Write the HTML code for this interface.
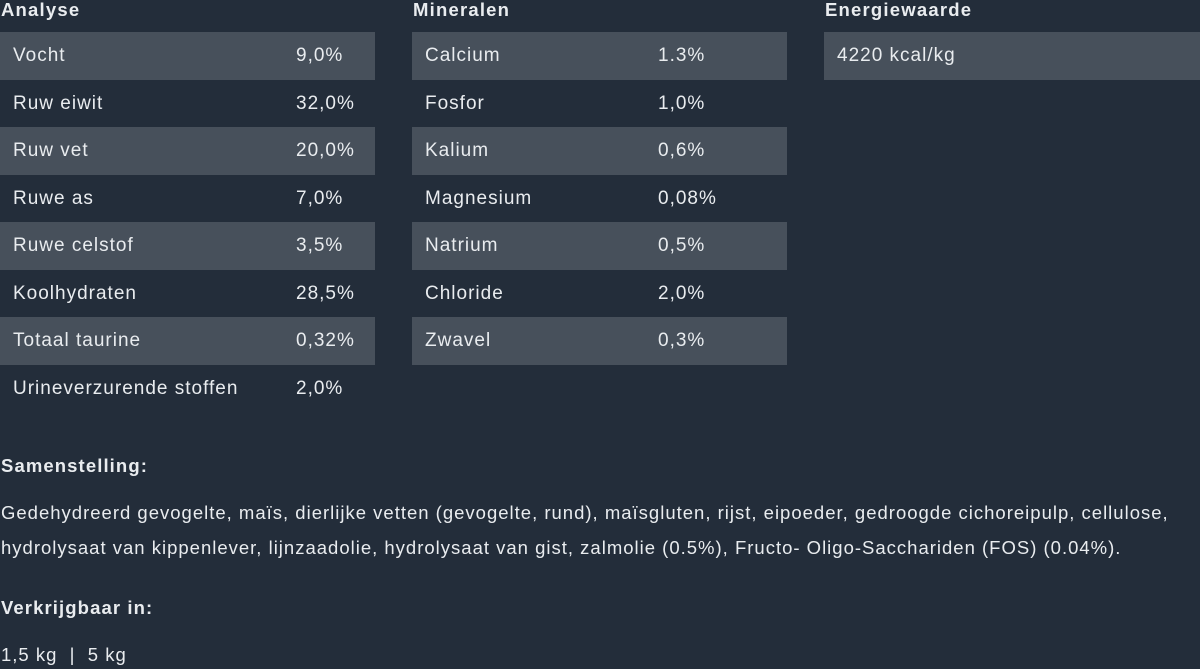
<!DOCTYPE html>
<html><head><meta charset="utf-8"><style>
body{margin:0;width:1200px;height:669px;background:#232d3a;color:#e9ecef;font-family:"Liberation Sans",sans-serif;overflow:hidden;position:relative}
.h{position:absolute;top:-2px;font-weight:bold;font-size:18.5px;line-height:24px;letter-spacing:1.2px}
.col{position:absolute;top:32px;width:375px}
.r{height:47.5px;line-height:47px;font-size:19px;position:relative;letter-spacing:1px}
.r.s{background:#47505b}
.r span{position:absolute;left:13px}
.r b{position:absolute;font-weight:normal}
.t{position:absolute;left:1px;font-size:18.5px;white-space:nowrap;letter-spacing:1px}
</style></head><body>
<div class="h" style="left:1px">Analyse</div>
<div class="h" style="left:413px">Mineralen</div>
<div class="h" style="left:825px">Energiewaarde</div>
<div class="col" style="left:0">
<div class="r s"><span>Vocht</span><b style="left:296px">9,0%</b></div>
<div class="r"><span>Ruw eiwit</span><b style="left:296px">32,0%</b></div>
<div class="r s"><span>Ruw vet</span><b style="left:296px">20,0%</b></div>
<div class="r"><span>Ruwe as</span><b style="left:296px">7,0%</b></div>
<div class="r s"><span>Ruwe celstof</span><b style="left:296px">3,5%</b></div>
<div class="r"><span>Koolhydraten</span><b style="left:296px">28,5%</b></div>
<div class="r s"><span>Totaal taurine</span><b style="left:296px">0,32%</b></div>
<div class="r"><span>Urineverzurende stoffen</span><b style="left:296px">2,0%</b></div>
</div>
<div class="col" style="left:412px">
<div class="r s"><span>Calcium</span><b style="left:246px">1.3%</b></div>
<div class="r"><span>Fosfor</span><b style="left:246px">1,0%</b></div>
<div class="r s"><span>Kalium</span><b style="left:246px">0,6%</b></div>
<div class="r"><span>Magnesium</span><b style="left:246px">0,08%</b></div>
<div class="r s"><span>Natrium</span><b style="left:246px">0,5%</b></div>
<div class="r"><span>Chloride</span><b style="left:246px">2,0%</b></div>
<div class="r s"><span>Zwavel</span><b style="left:246px">0,3%</b></div>
</div>
<div class="col" style="left:824px;width:376px">
<div class="r s"><span>4220 kcal/kg</span></div>
</div>
<div class="t" style="top:455px;font-weight:bold;font-size:18.5px;letter-spacing:1.1px">Samenstelling:</div>
<div class="t" style="top:502px">Gedehydreerd gevogelte, maïs, dierlijke vetten (gevogelte, rund), maïsgluten, rijst, eipoeder, gedroogde cichoreipulp, cellulose,</div>
<div class="t" style="top:537px">hydrolysaat van kippenlever, lijnzaadolie, hydrolysaat van gist, zalmolie (0.5%), Fructo- Oligo-Sacchariden (FOS) (0.04%).</div>
<div class="t" style="top:597px;font-weight:bold;font-size:18.5px;letter-spacing:1.1px">Verkrijgbaar in:</div>
<div class="t" style="top:644px">1,5 kg &nbsp;| &nbsp;5 kg</div>
</body></html>
